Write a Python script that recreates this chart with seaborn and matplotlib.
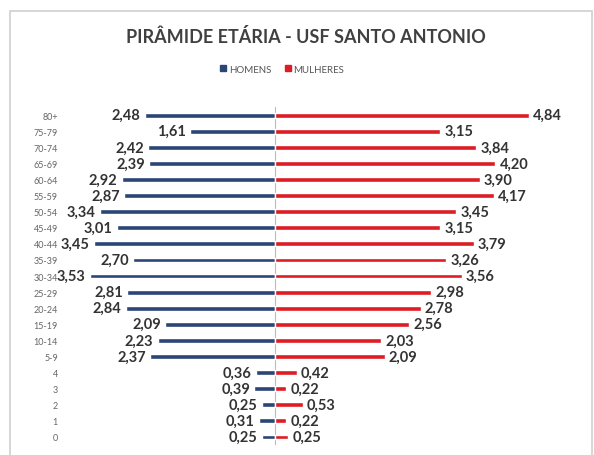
import numpy as np
import pandas as pd
import seaborn as sns
import matplotlib.pyplot as plt
from matplotlib.patches import Rectangle, Patch

# Dados (percentual por faixa etaria)
faixas = ['80+', '75-79', '70-74', '65-69', '60-64', '55-59', '50-54', '45-49',
          '40-44', '35-39', '30-34', '25-29', '20-24', '15-19', '10-14', '5-9',
          '4', '3', '2', '1', '0']
homens = [2.48, 1.61, 2.42, 2.39, 2.92, 2.87, 3.34, 3.01, 3.45, 2.70, 3.53,
          2.81, 2.84, 2.09, 2.23, 2.37, 0.36, 0.39, 0.25, 0.31, 0.25]
mulheres = [4.84, 3.15, 3.84, 4.20, 3.90, 4.17, 3.45, 3.15, 3.79, 3.26, 3.56,
            2.98, 2.78, 2.56, 2.03, 2.09, 0.42, 0.22, 0.53, 0.22, 0.25]

azul = '#2B4574'
vermelho = '#DD1C24'

df = pd.DataFrame({'faixa': faixas,
                   'homens': [-v for v in homens],
                   'mulheres': mulheres})

sns.set_style('white')
plt.rcParams['font.family'] = ['Lato', 'DejaVu Sans']

fig = plt.figure(figsize=(5.94, 4.56), dpi=100)
ax = fig.add_axes([0.081, 0.022, 0.895, 0.741])

sns.barplot(data=df, x='homens', y='faixa', color=azul, width=0.3,
            saturation=1, ax=ax)
sns.barplot(data=df, x='mulheres', y='faixa', color=vermelho, width=0.3,
            saturation=1, ax=ax)

ax.set_xlim(-4.32, 5.81)
ax.axvline(0, color='#b8b8c8', lw=0.8, zorder=0)

def fmt(v):
    return f'{v:.2f}'.replace('.', ',')

for i, (h, m) in enumerate(zip(homens, mulheres)):
    ax.text(-h - 0.08, i, fmt(h), ha='right', va='center', fontsize=10.5,
            fontweight='bold', color='#333333')
    ax.text(m + 0.08, i, fmt(m), ha='left', va='center', fontsize=10.5,
            fontweight='bold', color='#333333')

ax.set_xlabel('')
ax.set_ylabel('')
ax.set_xticks([])
ax.tick_params(axis='y', length=0, labelsize=6.5, labelcolor='#666666', pad=-7)
sns.despine(ax=ax, left=True, bottom=True)

fig.text(0.515, 0.919, 'PIRÂMIDE ETÁRIA - USF SANTO ANTONIO', ha='center',
         va='center', fontsize=13, fontweight='bold', color='#404040')

# legenda
handles = [Patch(color=azul, label='HOMENS'), Patch(color=vermelho, label='MULHERES')]
fig.legend(handles=handles, loc='center', bbox_to_anchor=(0.475, 0.846), ncol=2,
           frameon=False, fontsize=7, handlelength=0.6, handleheight=0.6,
           columnspacing=1.4, handletextpad=0.3, labelcolor='#555555')

# moldura
fig.patches.append(Rectangle((0.017, -0.01), 0.98, 0.983, transform=fig.transFigure,
                             fill=False, edgecolor='#d0d0d0', lw=1.2))

fig.savefig('out.png', dpi=100)
